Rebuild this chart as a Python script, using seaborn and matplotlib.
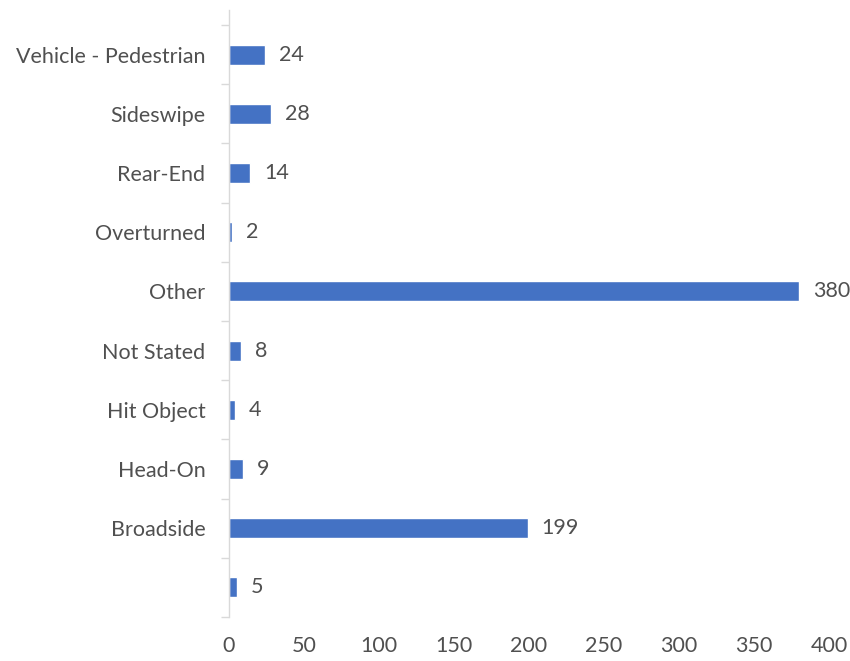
import numpy as np
import pandas as pd
import seaborn as sb
from matplotlib import pyplot as plt

# collision types, top to bottom as shown
categories = ["Vehicle - Pedestrian", "Sideswipe", "Rear-End", "Overturned", "Other",
              "Not Stated", "Hit Object", "Head-On", "Broadside", ""]
counts = [24, 28, 14, 2, 380, 8, 4, 9, 199, 5]
x_ticks = [0, 50, 100, 150, 200, 250, 300, 350, 400]

df = pd.DataFrame({"category": categories, "count": counts})

sb.set_style("white")
plt.rcParams['font.family'] = ['Lato', 'DejaVu Sans']

fig = plt.figure(figsize=(8.5, 6.61), dpi=100)
ax = fig.add_axes([229 / 850, 1 - 617 / 661, 600 / 850, 607 / 661])

sb.barplot(data=df, y="category", x="count", order=categories, orient="h",
           color="#4472C4", width=0.34, saturation=1, ax=ax)

ax.set_xlim(0, 400)
ax.set_ylim(len(categories) - 0.5, -0.5 - 15 / 59.2)
ax.set_xticks(x_ticks)
ax.set_xlabel("")
ax.set_ylabel("")

text_color = "#505050"
fs = 15.5
ax.tick_params(axis="x", length=0, labelsize=fs, labelcolor=text_color, pad=14)
ax.tick_params(axis="y", which="major", length=0, labelsize=fs, labelcolor=text_color, pad=17)
ax.set_yticks(np.arange(-0.5, len(categories), 1), minor=True)
ax.tick_params(axis="y", which="minor", left=True, length=6, width=1, color="#D9D9D9")

for side in ["top", "right", "bottom"]:
    ax.spines[side].set_visible(False)
ax.spines["left"].set_color("#D9D9D9")
ax.spines["left"].set_linewidth(1)

# value labels after each bar
ax.bar_label(ax.containers[0], padding=10, fontsize=fs, color=text_color)

plt.savefig("out.png", dpi=100)
